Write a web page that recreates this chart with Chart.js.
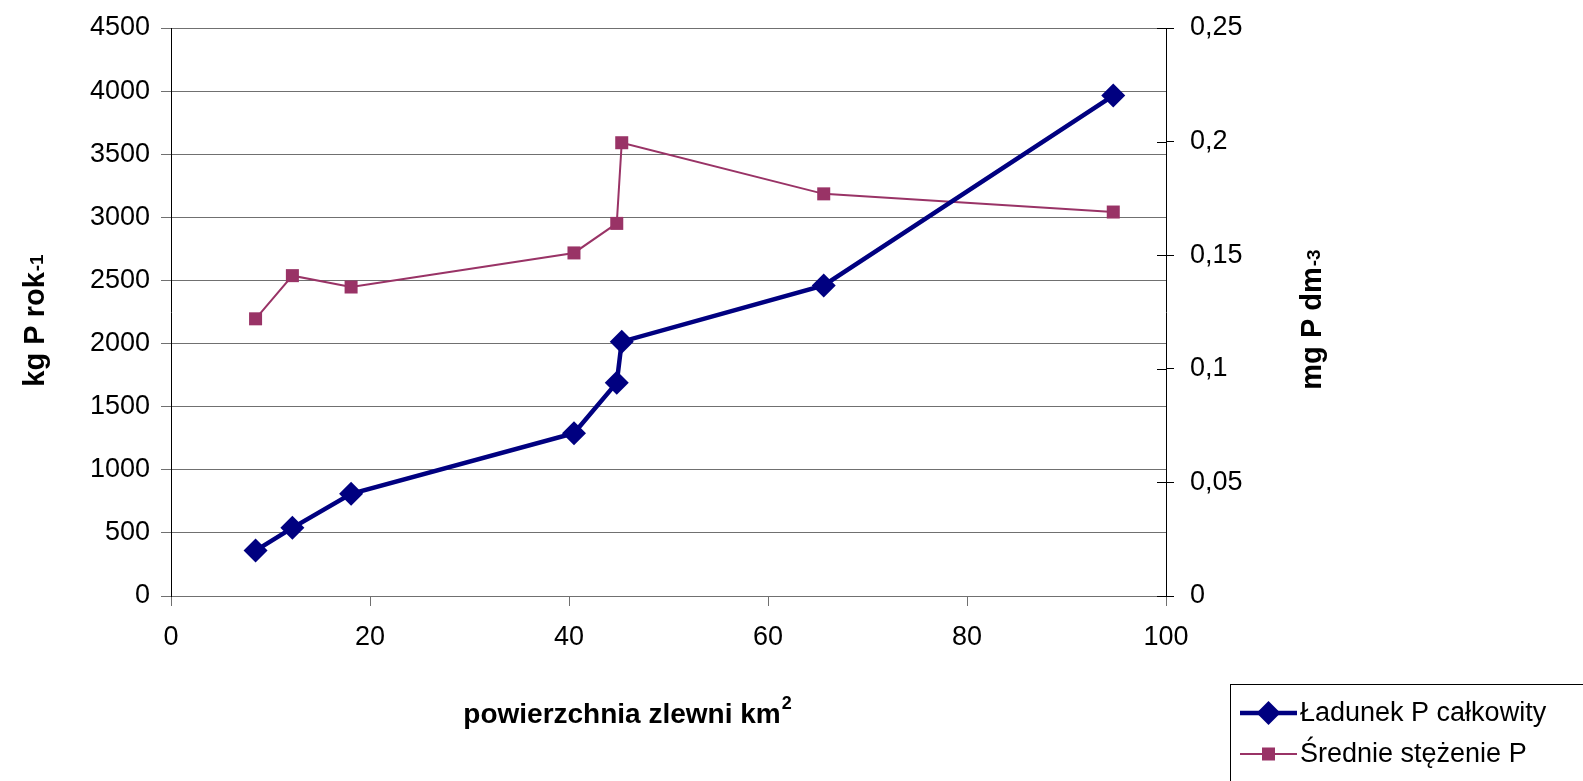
<!DOCTYPE html>
<html>
<head>
<meta charset="utf-8">
<script src="https://cdn.jsdelivr.net/npm/chart.js@4.4.0/dist/chart.umd.min.js"></script>
<style>
html, body { margin: 0; padding: 0; background: #fff; overflow: hidden; }
</style>
</head>
<body>
<canvas id="myChart" width="1583" height="781"></canvas>
<script>
// catchment area (km2) and the two series
const area = [8.5, 12.2, 18.1, 40.5, 44.8, 45.3, 65.6, 94.7]
const loadP = [360, 540, 810, 1290, 1690, 2015, 2460, 3965]
const concP = [0.122, 0.141, 0.136, 0.151, 0.164, 0.1995, 0.177, 0.169]
const seriesNames = ['Ładunek P całkowity', 'Średnie stężenie P']

const xTicks = [0, 20, 40, 60, 80, 100]
const leftTicks = [0, 500, 1000, 1500, 2000, 2500, 3000, 3500, 4000, 4500]
const rightTicks = [0, 0.05, 0.1, 0.15, 0.2, 0.25]
const rightLabels = ['0', '0,05', '0,1', '0,15', '0,2', '0,25']

const FONT = '"Liberation Sans", Arial, sans-serif'
const BLUE = '#000080'
const PINK = '#993366'
const GRID = '#707070'

function toPoints(xs, ys) {
  return xs.map((x, i) => ({ x: x, y: ys[i] }))
}

// title with a small superscript; supShift moves the superscript across the line
function drawSupTitle(ctx, main, sup, cx, cy, angle, size, supSize, supShift) {
  ctx.save()
  ctx.translate(cx, cy)
  ctx.rotate(angle)
  ctx.fillStyle = '#000'
  ctx.textBaseline = 'middle'
  ctx.textAlign = 'left'
  ctx.font = 'bold ' + size + 'px ' + FONT
  const w1 = ctx.measureText(main).width
  ctx.font = 'bold ' + supSize + 'px ' + FONT
  const w2 = ctx.measureText(sup).width
  const x0 = -(w1 + w2) / 2
  ctx.font = 'bold ' + size + 'px ' + FONT
  ctx.fillText(main, x0, 0)
  ctx.font = 'bold ' + supSize + 'px ' + FONT
  ctx.fillText(sup, x0 + w1 + 1, supShift)
  ctx.restore()
}

// no extra room above/below the value axes, the top is set by layout padding
function fixY(width) {
  return function (scale) {
    scale.width = width
    scale.paddingTop = 0
    scale.paddingBottom = 0
  }
}

// axis titles, inner half of the right ticks, and the boxed legend
const extras = {
  id: 'extras',
  afterDraw(chart) {
    const ctx = chart.ctx
    const y2 = chart.scales.y2

    ctx.save()
    ctx.strokeStyle = '#000'
    ctx.lineWidth = 1
    rightTicks.forEach(v => {
      const py = Math.round(y2.getPixelForValue(v)) + 0.5
      ctx.beginPath()
      ctx.moveTo(y2.left - 9, py)
      ctx.lineTo(y2.left, py)
      ctx.stroke()
    })
    ctx.restore()

    drawSupTitle(ctx, 'powierzchnia zlewni km', '2', 627, 715, 0, 28, 18, -11)
    drawSupTitle(ctx, 'kg P rok', '-1', 36, 321, -Math.PI / 2, 29, 19, 2)
    drawSupTitle(ctx, 'mg P dm', '-3', 1313, 320, -Math.PI / 2, 29, 19, 2)

    // legend
    ctx.save()
    ctx.strokeStyle = '#000'
    ctx.lineWidth = 1
    ctx.strokeRect(1230.5, 684.5, 400, 200)
    const rows = [
      { name: seriesNames[0], color: BLUE, width: 4.5, style: 'rectRot', r: 12, y: 713 },
      { name: seriesNames[1], color: PINK, width: 2, style: 'rect', r: 9.2, y: 754 }
    ]
    rows.forEach(row => {
      ctx.strokeStyle = row.color
      ctx.lineWidth = row.width
      ctx.beginPath()
      ctx.moveTo(1240, row.y)
      ctx.lineTo(1297, row.y)
      ctx.stroke()
      ctx.fillStyle = row.color
      Chart.helpers.drawPoint(ctx, { pointStyle: row.style, radius: row.r, rotation: 0, borderWidth: 0 }, 1268.5, row.y)
      ctx.fillStyle = '#000'
      ctx.font = '27px ' + FONT
      ctx.textBaseline = 'middle'
      ctx.textAlign = 'left'
      ctx.fillText(row.name, 1300, row.y + 1)
    })
    ctx.restore()
  }
}

const ctx = document.getElementById('myChart').getContext('2d')
const chart = new Chart(ctx, {
  type: 'scatter',
  data: {
    datasets: [{
      label: seriesNames[0],
      data: toPoints(area, loadP),
      yAxisID: 'y',
      showLine: true,
      borderColor: BLUE,
      borderWidth: 4.5,
      backgroundColor: BLUE,
      pointStyle: 'rectRot',
      pointRadius: 12,
      pointHoverRadius: 12,
      pointBorderWidth: 0,
      pointBackgroundColor: BLUE,
      order: 0
    }, {
      label: seriesNames[1],
      data: toPoints(area, concP),
      yAxisID: 'y2',
      showLine: true,
      borderColor: PINK,
      borderWidth: 2,
      backgroundColor: PINK,
      pointStyle: 'rect',
      pointRadius: 9.2,
      pointHoverRadius: 9.2,
      pointBorderWidth: 0,
      pointBackgroundColor: PINK,
      order: 1
    }]
  },
  options: {
    responsive: false,
    animation: false,
    events: [],
    layout: { padding: { top: 28, left: 0, right: 0, bottom: 0 } },
    plugins: {
      legend: { display: false },
      tooltip: { enabled: false }
    },
    scales: {
      x: {
        type: 'linear',
        min: xTicks[0],
        max: xTicks[xTicks.length - 1],
        ticks: {
          stepSize: xTicks[1] - xTicks[0],
          color: '#000',
          font: { family: FONT, size: 27 },
          padding: 15,
          maxRotation: 0,
          callback: v => String(v)
        },
        grid: { drawOnChartArea: false, tickLength: 10, color: GRID },
        border: { color: GRID },
        afterFit(scale) { scale.height = 185 }
      },
      y: {
        position: 'left',
        min: leftTicks[0],
        max: leftTicks[leftTicks.length - 1],
        ticks: {
          stepSize: leftTicks[1] - leftTicks[0],
          color: '#000',
          font: { family: FONT, size: 27 },
          padding: 11,
          callback: v => String(v)
        },
        grid: { color: GRID, tickLength: 10 },
        border: { color: '#000' },
        afterFit: fixY(171)
      },
      y2: {
        position: 'right',
        min: rightTicks[0],
        max: rightTicks[rightTicks.length - 1],
        ticks: {
          stepSize: rightTicks[1] - rightTicks[0],
          color: '#000',
          font: { family: FONT, size: 27 },
          padding: 16,
          callback: (v, i) => rightLabels[i]
        },
        grid: { drawOnChartArea: false, tickLength: 8, color: '#000' },
        border: { color: '#000' },
        afterFit: fixY(417)
      }
    }
  },
  plugins: [extras]
})
</script>
</body>
</html>
